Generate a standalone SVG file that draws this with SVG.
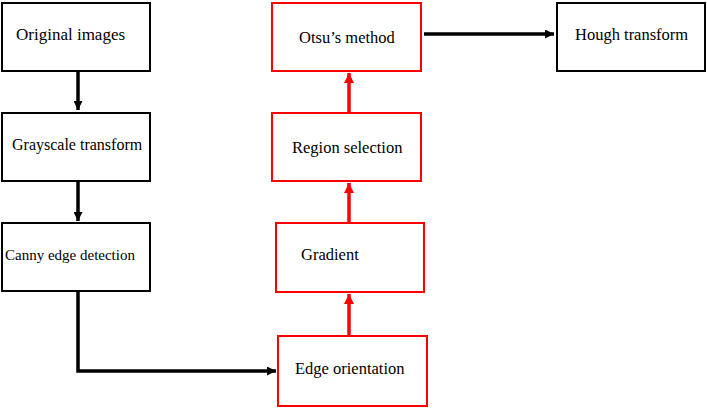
<svg xmlns="http://www.w3.org/2000/svg" width="707" height="408" viewBox="0 0 707 408">
<defs>
<style>
.bk{fill:#fff;stroke:#000;stroke-width:2}
.rd{fill:#fff;stroke:#f00;stroke-width:2}
text{fill:#000}
.cb{fill:none;stroke:#000;stroke-width:3.5}
.cr{fill:none;stroke:#f00;stroke-width:3.5}
</style>
<marker id="ab" viewBox="0 0 10 10" refX="10" refY="5" markerWidth="10" markerHeight="9" markerUnits="userSpaceOnUse" orient="auto"><path d="M0,0L10,5L0,10z" fill="#000"/></marker>
<marker id="ar" viewBox="0 0 10 10" refX="10" refY="5" markerWidth="12" markerHeight="10" markerUnits="userSpaceOnUse" orient="auto"><path d="M0,0L10,5L0,10z" fill="#f00"/></marker>
</defs>
<g id="connectors">
<path class="cb" d="M78,72V110" marker-end="url(#ab)"/>
<path class="cb" d="M78,182V221" marker-end="url(#ab)"/>
<path class="cb" d="M78,292V371H276" marker-end="url(#ab)"/>
<path class="cr" d="M349,335V294" marker-end="url(#ar)"/>
<path class="cr" d="M349,222V183" marker-end="url(#ar)"/>
<path class="cr" d="M349,112V73" marker-end="url(#ar)"/>
<path class="cb" d="M424,34H554" marker-end="url(#ab)"/>
</g>
<g id="n1"><rect class="bk" x="2" y="3" width="148" height="68"/><text font-family="Liberation Serif" font-size="17" x="16" y="40">Original images</text></g>
<g id="n2"><rect class="bk" x="2" y="113" width="148" height="68"/><text font-family="Liberation Serif" font-size="16" x="12" y="150">Grayscale transform</text></g>
<g id="n3"><rect class="bk" x="2" y="223" width="148" height="68"/><text font-family="Liberation Serif" font-size="15" x="5" y="260">Canny edge detection</text></g>
<g id="n4"><rect class="rd" x="278" y="336" width="149" height="70"/><text font-family="Liberation Serif" font-size="16.5" x="295" y="374">Edge orientation</text></g>
<g id="n5"><rect class="rd" x="276" y="223" width="148" height="69"/><text font-family="Liberation Serif" font-size="16.5" x="301" y="260">Gradient</text></g>
<g id="n6"><rect class="rd" x="272" y="113" width="149" height="68"/><text font-family="Liberation Serif" font-size="16.5" x="292" y="153">Region selection</text></g>
<g id="n7"><rect class="rd" x="272" y="3" width="149" height="68"/><text font-family="Liberation Serif" font-size="16.5" x="299" y="43">Otsu’s method</text></g>
<g id="n8"><rect class="bk" x="557" y="3" width="148" height="68"/><text font-family="Liberation Serif" font-size="16.5" x="575" y="40">Hough transform</text></g>
</svg>
